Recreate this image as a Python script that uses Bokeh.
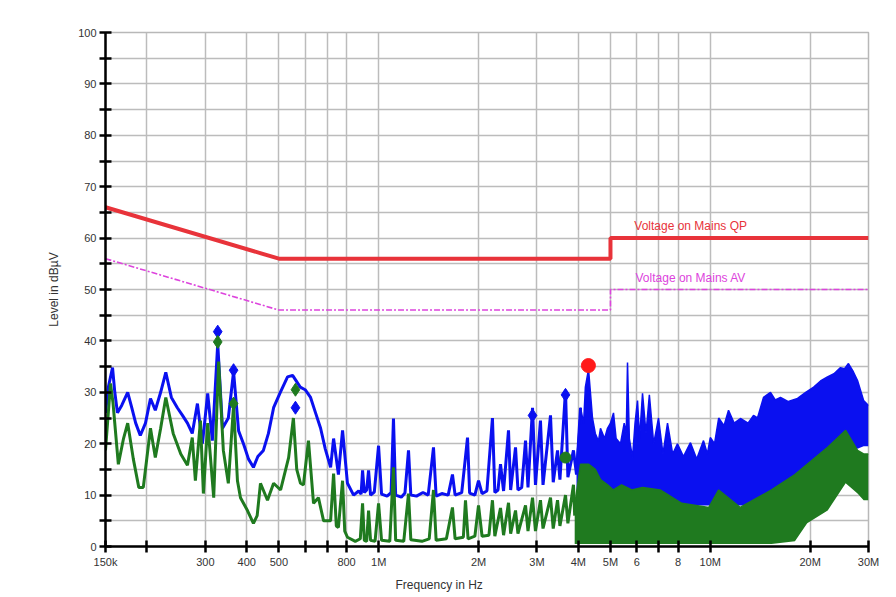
import numpy as np
from bokeh.plotting import figure
from bokeh.models import FixedTicker, Label, Title
from bokeh.embed import file_html
from bokeh.resources import INLINE

# ---------------- data (frequency in MHz, level in dBµV) ----------------
qp_freq = [0.15, 0.5, 5.0, 5.0, 30.0]
qp_level = [66, 56, 56, 60, 60]
av_freq = [0.15, 0.5, 5.0, 5.0, 30.0]
av_level = [56, 46, 46, 50, 50]

blue_trace = [
    (0.150, 26), (0.153, 31), (0.1575, 34.8), (0.160, 30), (0.163, 26), (0.168, 27.5),
    (0.175, 30), (0.180, 27), (0.185, 24), (0.191, 21.6), (0.198, 24), (0.205, 28.8),
    (0.212, 26.5), (0.220, 30), (0.228, 33.9), (0.237, 29), (0.247, 27), (0.256, 25.5),
    (0.265, 24), (0.274, 22), (0.284, 27.8), (0.294, 20), (0.305, 29.8), (0.315, 20.6),
    (0.327, 39.5), (0.338, 23), (0.352, 25), (0.365, 34), (0.378, 22.5), (0.391, 20),
    (0.405, 17), (0.419, 15.4), (0.432, 17.5), (0.449, 18.7), (0.465, 22), (0.482, 27),
    (0.505, 30), (0.531, 33), (0.550, 33.3), (0.58, 31), (0.60, 30.5), (0.623, 29),
    (0.645, 26), (0.668, 23), (0.69, 19), (0.716, 15.4), (0.731, 21), (0.756, 14),
    (0.778, 22.6), (0.805, 12.3), (0.84, 10.0), (0.87, 10.8), (0.885, 10.2), (0.894, 14.8),
    (0.905, 10.5), (0.92, 11.0), (0.932, 14.8), (0.945, 10.0), (0.97, 10.6), (0.999, 19.6),
    (1.02, 10.2), (1.06, 9.8), (1.09, 10.5), (1.108, 24.9), (1.125, 10.0), (1.17, 9.6),
    (1.2, 10.4), (1.23, 18.7), (1.25, 10.0), (1.30, 9.8), (1.36, 10.5), (1.41, 10.0),
    (1.463, 19.3), (1.49, 9.8), (1.55, 10.3), (1.62, 10.0), (1.669, 14.0), (1.70, 10.0),
    (1.78, 10.5), (1.853, 21.2), (1.88, 10.4), (1.95, 10.0), (2.0, 12.8), (2.05, 10.3),
    (2.12, 10.8), (2.203, 25.0), (2.24, 10.5), (2.29, 11.0), (2.33, 16.0), (2.38, 10.8),
    (2.463, 22.6), (2.5, 11.0), (2.586, 19.3), (2.63, 11.0), (2.70, 11.5), (2.772, 20.6),
    (2.82, 11.5), (2.91, 27.0), (2.97, 12.0), (3.075, 24.5), (3.13, 12.0), (3.297, 25.5),
    (3.36, 12.5), (3.462, 18.7), (3.52, 13.0), (3.659, 30.4), (3.72, 13.5), (3.867, 18.7),
    (3.95, 14), (4.061, 27),
]

blue_band = [  # (freq, low, high)
    (3.95, 10, 16), (4.061, 10, 27), (4.15, 11, 24), (4.2, 12, 31), (4.293, 13, 34.5),
    (4.35, 13, 30), (4.413, 12, 25), (4.5, 12, 22), (4.6, 12, 20.5), (4.665, 11, 23),
    (4.8, 11, 21), (4.898, 11, 23), (5.0, 11, 24), (5.106, 11, 26), (5.2, 10, 21),
    (5.361, 10, 20), (5.5, 10, 24), (5.58, 10, 22), (5.628, 10, 35.8), (5.7, 10, 21),
    (5.828, 10, 17.3), (5.93, 10, 24), (6.033, 10, 28.4), (6.12, 10, 21), (6.246, 10, 29.8),
    (6.4, 10, 22), (6.55, 10, 29.5), (6.75, 9, 20), (6.98, 9, 25), (7.2, 9, 18),
    (7.43, 9, 24), (7.7, 8, 18), (7.96, 8, 20), (8.3, 8, 17.5), (8.715, 8, 20.2),
    (9.1, 8, 17), (9.54, 8, 20.6), (9.8, 8, 18), (10.0, 8, 21.2), (10.3, 8, 20),
    (10.6, 8, 25), (11.0, 8, 23.5), (11.35, 8, 26.5), (11.8, 8, 24), (12.33, 8, 24.9),
    (13.0, 8, 24.0), (13.5, 8, 25.5), (13.88, 9, 25), (14.47, 9, 29), (15.19, 10, 30),
    (15.7, 10, 28.5), (16.28, 10, 29), (17.2, 11, 28.2), (18.33, 12, 28.8), (19.4, 13, 30),
    (20.5, 14, 31), (21.5, 15, 32.2), (22.56, 17, 33), (23.6, 18, 33.6), (24.7, 19, 34.8),
    (25.4, 19.5, 34.6), (26.1, 20, 35.6), (27.0, 19.5, 34), (27.8, 19, 32.3),
    (29.0, 19.5, 28.4), (30.0, 19.5, 27.4),
]

green_trace = [
    (0.150, 18.7), (0.1553, 31.7), (0.158, 28), (0.164, 16), (0.170, 21), (0.175, 24),
    (0.182, 17), (0.189, 11.5), (0.195, 11.5), (0.205, 23), (0.212, 17.3), (0.220, 23),
    (0.228, 29), (0.24, 22), (0.253, 18), (0.265, 15.8), (0.274, 21.2), (0.280, 12.8),
    (0.290, 24.5), (0.296, 10.3), (0.305, 24), (0.318, 9.5), (0.329, 36), (0.340, 18.7),
    (0.352, 12.3), (0.365, 27.4), (0.375, 12.8), (0.383, 9.5), (0.402, 7), (0.419, 4.5),
    (0.43, 6), (0.440, 12.3), (0.462, 9), (0.482, 12.3), (0.506, 11), (0.535, 17.3),
    (0.553, 25), (0.566, 15), (0.581, 12.3), (0.593, 12), (0.614, 20.6), (0.636, 8.4),
    (0.658, 9.5), (0.682, 5), (0.716, 5), (0.731, 14.2), (0.745, 4), (0.756, 3.7),
    (0.778, 12.8), (0.79, 3), (0.805, 1.8), (0.85, 1.0), (0.88, 1.5), (0.894, 8.4),
    (0.905, 1.2), (0.92, 1.0), (0.932, 7.0), (0.945, 1.2), (0.975, 1.0), (0.999, 8.4),
    (1.02, 1.2), (1.08, 1.0), (1.108, 15.4), (1.125, 1.2), (1.19, 1.0), (1.23, 10.3),
    (1.25, 1.3), (1.35, 1.0), (1.42, 1.5), (1.463, 11), (1.49, 1.2), (1.6, 1.5),
    (1.669, 7.6), (1.70, 1.5), (1.80, 1.8), (1.827, 9), (1.86, 1.5), (1.95, 2.0),
    (2.0, 8.0), (2.05, 2.0), (2.15, 2.2), (2.203, 9.0), (2.24, 2.0), (2.33, 7.5),
    (2.38, 2.2), (2.463, 8.5), (2.5, 2.5), (2.586, 7.0), (2.63, 2.5), (2.772, 8.0),
    (2.82, 3.0), (2.91, 9.5), (2.97, 3.0), (3.075, 9.0), (3.13, 3.5), (3.297, 9.5),
    (3.36, 3.5), (3.462, 9.0), (3.52, 4.0), (3.659, 10.0), (3.72, 4.5), (3.867, 12.0),
    (3.9, 6),
]

green_band = [  # (freq, low, high)
    (3.9, 0.5, 8), (4.061, 0.5, 16), (4.3, 0.5, 16), (4.5, 0.5, 15), (4.665, 0.5, 13),
    (4.9, 0.5, 12), (5.1, 0.5, 11), (5.4, 0.5, 12), (5.8, 0.5, 11), (6.25, 0.5, 11.5),
    (7.06, 0.5, 11), (8.2, 0.5, 8.4), (9.9, 0.5, 7.6), (10.6, 0.5, 11), (12.3, 0.5, 7.6),
    (15.3, 0.5, 11), (18.0, 1.0, 14), (19.6, 4.5, 16), (22.6, 7, 19.3), (25.6, 12.3, 22.6),
    (27.8, 10.3, 18.7), (29.0, 9.0, 18.0), (30.0, 9.0, 18.0),
]

blue_mark_freq = [0.327, 0.365, 0.561, 2.91, 3.659]
blue_mark_level = [41.8, 34.3, 27.0, 25.5, 29.5]
green_mark_freq = [0.327, 0.365, 0.561]
green_mark_level = [39.8, 27.8, 30.5]
green_dot_freq = [3.659]
green_dot_level = [17.3]
red_dot_freq = [4.29]
red_dot_level = [35.2]

x_ticks_mhz = [0.15, 0.2, 0.3, 0.4, 0.5, 0.6, 0.7, 0.8, 1, 2, 3, 4, 5, 6, 7, 8, 10, 20, 30]
x_tick_labels = ["150k", "", "300", "400", "500", "", "", "800", "1M", "2M", "3M", "4M",
                 "5M", "6", "", "8", "10M", "20M", "30M"]
y_ticks = list(range(0, 101, 5))

# ---------------- figure ----------------
MHZ = 1e6
FONT = "Liberation Sans"
BLUE = "#0a10f0"
GREEN = "#1f7a1f"

p = figure(width=890, height=597, x_axis_type="log",
           x_range=(0.15 * MHZ, 30 * MHZ), y_range=(0, 100),
           output_backend="svg", toolbar_location=None,
           min_border_left=105, min_border_right=22, min_border_top=32, min_border_bottom=51)
p.background_fill_color = "white"
p.border_fill_color = "white"
p.outline_line_color = "#b8b8b8"
p.outline_line_width = 1.5

xt = FixedTicker(ticks=[t * MHZ for t in x_ticks_mhz])
yt = FixedTicker(ticks=y_ticks)
p.xaxis.ticker = xt
p.yaxis.ticker = yt
p.xgrid.ticker = xt
p.ygrid.ticker = yt
p.xaxis.major_label_overrides = {t * MHZ: lab for t, lab in zip(x_ticks_mhz, x_tick_labels)}
p.yaxis.major_label_overrides = {v: (str(v) if v % 10 == 0 else "") for v in y_ticks}
for g in (p.xgrid, p.ygrid):
    g.grid_line_color = "#bcbcbc"
    g.grid_line_width = 1.5
for ax in (p.xaxis, p.yaxis):
    ax.axis_line_width = 2.5
    ax.axis_line_color = "black"
    ax.major_tick_line_width = 2.5
    ax.major_tick_in = 6
    ax.major_tick_out = 6
    ax.minor_tick_line_color = None
    ax.major_label_text_font = FONT
    ax.major_label_text_font_size = "11px"
    ax.major_label_text_color = "#333333"
    ax.major_label_standoff = 3

# y axis title
p.yaxis.axis_label = "Level in dBµV"
p.yaxis.axis_label_text_font = FONT
p.yaxis.axis_label_text_font_size = "12px"
p.yaxis.axis_label_text_font_style = "normal"
p.yaxis.axis_label_text_color = "#333333"
p.yaxis.axis_label_standoff = 14

# x axis title (left of centre, as in the original)
p.add_layout(Title(text="Frequency in Hz", align="left", offset=290, standoff=11,
                   text_font=FONT, text_font_size="12px", text_font_style="normal",
                   text_color="#333333"), "below")

# limit lines
p.line([f * MHZ for f in qp_freq], qp_level, line_color="#e8333a", line_width=4)
p.line([f * MHZ for f in av_freq], av_level, line_color="#dd44dd", line_width=1.6,
       line_dash="6 2 2 2")

# blue trace
bf = [a * MHZ for a, b in blue_trace]
bl = [b for a, b in blue_trace]
p.line(bf, bl, line_color=BLUE, line_width=3)
bbf = [a * MHZ for a, _, _ in blue_band]
p.varea(x=bbf, y1=[l for _, l, _ in blue_band], y2=[h for _, _, h in blue_band], fill_color=BLUE)
p.line(bbf, [h for _, _, h in blue_band], line_color=BLUE, line_width=1.5)

# green trace
gf = [a * MHZ for a, b in green_trace]
gl = [b for a, b in green_trace]
p.line(gf, gl, line_color=GREEN, line_width=3)
gbf = [a * MHZ for a, _, _ in green_band]
p.varea(x=gbf, y1=[l for _, l, _ in green_band], y2=[h for _, _, h in green_band], fill_color=GREEN)
p.line(gbf, [h for _, _, h in green_band], line_color=GREEN, line_width=1.5)

# markers
p.scatter([f * MHZ for f in blue_mark_freq], blue_mark_level, marker="diamond", size=13,
          fill_color=BLUE, line_color=BLUE)
p.scatter([f * MHZ for f in green_mark_freq], green_mark_level, marker="diamond", size=13,
          fill_color=GREEN, line_color=GREEN)
p.scatter([f * MHZ for f in green_dot_freq], green_dot_level, marker="circle", size=11,
          fill_color=GREEN, line_color=GREEN)
p.scatter([f * MHZ for f in red_dot_freq], red_dot_level, marker="circle", size=14,
          fill_color="#ff1a1a", line_color="#ff1a1a")

# limit labels
p.add_layout(Label(x=5.9 * MHZ, y=61, text="Voltage on Mains QP", text_color="#e8333a",
                   text_font=FONT, text_font_size="12px", text_baseline="bottom"))
p.add_layout(Label(x=5.95 * MHZ, y=50.8, text="Voltage on Mains AV", text_color="#dd44dd",
                   text_font=FONT, text_font_size="12px", text_baseline="bottom"))

open("out.html", "w").write(file_html(p, INLINE))
